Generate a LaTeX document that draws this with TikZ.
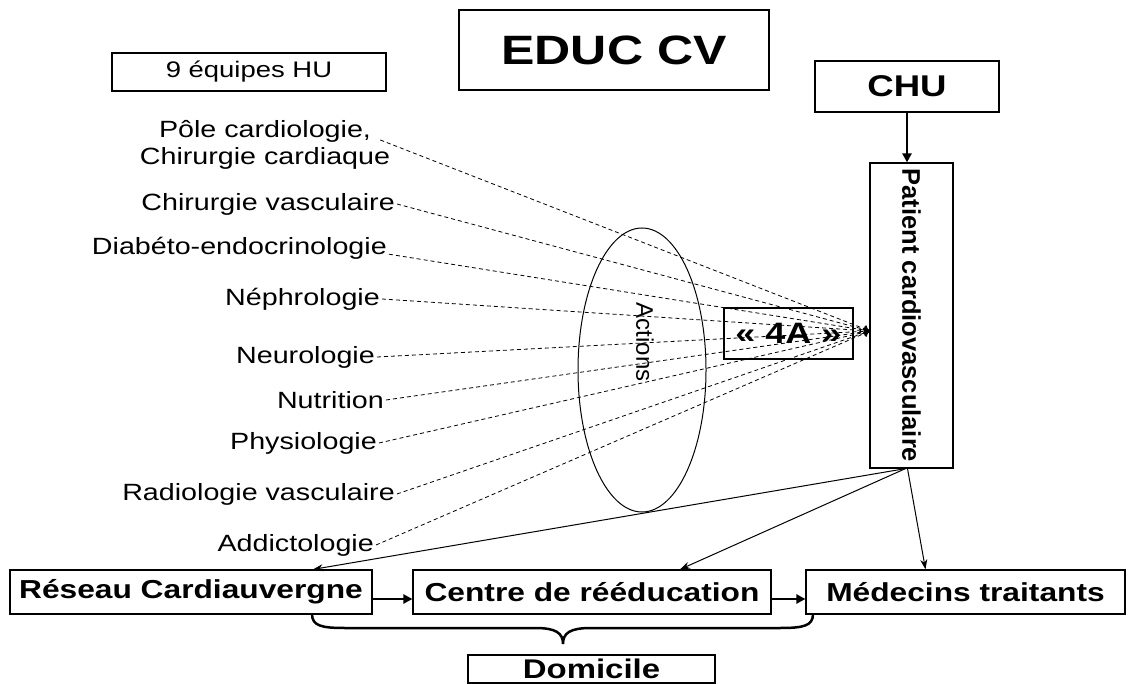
\documentclass[tikz,border=0pt]{standalone}
\usepackage{fontspec}
\setmainfont{Liberation Sans}[FakeStretch=1.22]
\newfontfamily\uprightfont{Liberation Sans}
\usetikzlibrary{shapes,arrows.meta,calc}

\begin{document}
\begin{tikzpicture}[x=1pt,y=1pt,yscale=-1,
    unitbox/.style={draw,line width=1.2pt,inner sep=0pt},
    teamlabel/.style={anchor=east,inner sep=2pt,font=\fontsize{23.5}{27}\selectfont},
    dashline/.style={dash pattern=on 4pt off 3pt,line width=0.8pt,-{To[length=6pt,width=8pt]}},
    thinarrow/.style={line width=1pt,-{Stealth[length=10pt,width=7pt]}},
    thickarrow/.style={line width=2.6pt,-{Triangle[length=9pt,width=9pt]}}]
    \useasboundingbox (0,0) rectangle (1129,684);

    %Shape: Rectangle (title)
    \node[unitbox,minimum width=310pt,minimum height=80pt,font=\bfseries\fontsize{41}{45}\selectfont] (educ) at (614,50) {EDUC CV};
    %Shape: Rectangle (teams)
    \node[unitbox,minimum width=274pt,minimum height=38pt,font=\fontsize{22.5}{26}\selectfont] (equipes) at (249,72) {9 équipes HU};
    %Shape: Rectangle (CHU)
    \node[unitbox,minimum width=184pt,minimum height=51pt,font=\bfseries\fontsize{30}{34}\selectfont] (chu) at (907,86.5) {CHU};
    %Shape: Rectangle (patient)
    \node[unitbox,minimum width=83pt,minimum height=305pt] (patient) at (911.5,315.5) {};
    \node[rotate=-90,font=\uprightfont\bfseries\fontsize{25.5}{30}\selectfont] (patienttext) at (patient) {Patient cardiovasculaire};

    %Shape: Ellipse (actions)
    \node[draw,ellipse,line width=1pt,minimum width=128pt,minimum height=284pt] (actionring) at (642,370) {};
    \node[rotate=-90,font=\uprightfont\fontsize{24}{28}\selectfont] (actions) at (645,342) {Actions};
    %Shape: Rectangle (4A)
    \node[unitbox,minimum width=129pt,minimum height=51pt,font=\bfseries\fontsize{29.5}{33}\selectfont] (quatreA) at (788.5,333.5) {« 4A »};
    \coordinate (hub) at (870,331);

    % Text Node
    \node[teamlabel,anchor=center,align=center] (pole) at (265,145) {Pôle cardiologie,\\Chirurgie cardiaque};
    % Text Node
    \node[teamlabel] (chirvasc) at (397,204) {Chirurgie vasculaire};
    % Text Node
    \node[teamlabel] (diabeto) at (389,248) {Diabéto-endocrinologie};
    % Text Node
    \node[teamlabel] (nephro) at (382,299) {Néphrologie};
    % Text Node
    \node[teamlabel] (neuro) at (377,357) {Neurologie};
    % Text Node
    \node[teamlabel] (nutrition) at (386,400) {Nutrition};
    % Text Node
    \node[teamlabel] (physio) at (379,443) {Physiologie};
    % Text Node
    \node[teamlabel] (radio) at (397,494) {Radiologie vasculaire};
    % Text Node
    \node[teamlabel] (addicto) at (376,545) {Addictologie};

    %Shape: Rectangle (bottom row)
    \node[unitbox,minimum width=362pt,minimum height=44pt,font=\bfseries\fontsize{26}{30}\selectfont] (reseau) at (191,592) {Réseau Cardiauvergne};
    \node[unitbox,minimum width=358pt,minimum height=44pt,font=\bfseries\fontsize{26}{30}\selectfont] (centre) at (592,592) {Centre de rééducation};
    \node[unitbox,minimum width=319pt,minimum height=44pt,font=\bfseries\fontsize{26}{30}\selectfont] (medecins) at (965.5,592) {Médecins traitants};
    \node[unitbox,minimum width=247pt,minimum height=28pt,font=\bfseries\fontsize{27}{30}\selectfont] (domicile) at (591.5,669) {Domicile};

    %Dashed Lines
    \draw[dashline] ($(pole.east)+(-12,-5)$) -- (hub);
    \draw[dashline] (chirvasc.east) -- (hub);
    \draw[dashline] (diabeto.base east) -- (hub);
    \draw[dashline] (nephro.east) -- (hub);
    \draw[dashline] (neuro.east) -- (hub);
    \draw[dashline] (nutrition.east) -- (hub);
    \draw[dashline] (physio.east) -- (hub);
    \draw[dashline] (radio.east) -- (hub);
    \draw[dashline] (addicto.east) -- (hub);

    %Straight Lines
    \draw[thickarrow] (chu.south) -- (chu.south |- patient.north);
    \draw[thinarrow] ([xshift=-6pt]patient.south) -- ([xshift=122pt]reseau.north);
    \draw[thinarrow] ([xshift=-6pt]patient.south) -- ([xshift=88pt]centre.north);
    \draw[thinarrow] ([xshift=-4pt]patient.south) -- ([xshift=-40pt]medecins.north);
    \draw[thickarrow] ($(reseau.east)+(0,7)$) -- ($(centre.west)+(0,7)$);
    \draw[thickarrow] ($(centre.east)+(0,7)$) -- ($(medecins.west)+(0,7)$);

    %Curve Lines (brace)
    \draw[line width=2.5pt] (312,614) .. controls (312,626) and (322,628) .. (345,628) -- (535,628) .. controls (556,628) and (563,633) .. (563,644) .. controls (563,633) and (570,628) .. (591,628) -- (780,628) .. controls (803,628) and (813,626) .. (813,614);

\end{tikzpicture}
\end{document}
